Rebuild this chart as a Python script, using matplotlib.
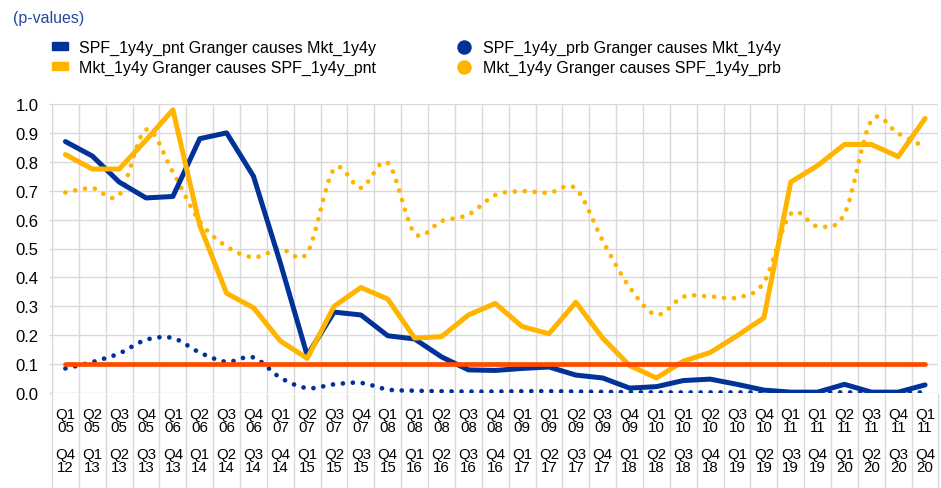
import numpy as np
import matplotlib
matplotlib.use("Agg")
import matplotlib.pyplot as plt
from matplotlib.path import Path
from matplotlib.patches import PathPatch, Patch
from matplotlib.lines import Line2D

plt.rcParams['font.family'] = ['Liberation Sans', 'DejaVu Sans']

# data (p-values)
win_start = ["Q1 05", "Q2 05", "Q3 05", "Q4 05", "Q1 06", "Q2 06", "Q3 06", "Q4 06",
             "Q1 07", "Q2 07", "Q3 07", "Q4 07", "Q1 08", "Q1 08", "Q2 08", "Q3 08",
             "Q4 08", "Q1 09", "Q1 09", "Q2 09", "Q3 09", "Q4 09", "Q1 10", "Q1 10",
             "Q2 10", "Q3 10", "Q4 10", "Q1 11", "Q1 11", "Q2 11", "Q3 11", "Q4 11", "Q1 11"]
win_end = ["Q4 12", "Q1 13", "Q2 13", "Q3 13", "Q4 13", "Q1 14", "Q2 14", "Q3 14",
           "Q4 14", "Q1 15", "Q2 15", "Q3 15", "Q4 15", "Q1 16", "Q2 16", "Q3 16",
           "Q4 16", "Q1 17", "Q2 17", "Q3 17", "Q4 17", "Q1 18", "Q2 18", "Q3 18",
           "Q4 18", "Q1 19", "Q2 19", "Q3 19", "Q4 19", "Q1 20", "Q2 20", "Q3 20", "Q4 20"]

spf_pnt_to_mkt = [0.87, 0.82, 0.73, 0.675, 0.68, 0.88, 0.90, 0.75, 0.45, 0.13, 0.28,
                  0.27, 0.198, 0.187, 0.125, 0.08, 0.078, 0.085, 0.09, 0.062, 0.052,
                  0.017, 0.022, 0.043, 0.048, 0.03, 0.01, 0.003, 0.003, 0.03, 0.003,
                  0.003, 0.028]
mkt_to_spf_pnt = [0.825, 0.775, 0.775, 0.875, 0.98, 0.58, 0.345, 0.295, 0.18, 0.12,
                  0.30, 0.365, 0.325, 0.19, 0.195, 0.27, 0.31, 0.23, 0.205, 0.314,
                  0.19, 0.095, 0.052, 0.11, 0.14, 0.198, 0.26, 0.73, 0.787, 0.86,
                  0.86, 0.818, 0.95]
spf_prb_to_mkt = [0.085, 0.107, 0.137, 0.184, 0.19, 0.14, 0.108, 0.123, 0.053, 0.017,
                  0.03, 0.035, 0.012, 0.008, 0.006, 0.005, 0.005, 0.006, 0.006, 0.005,
                  0.004, 0.003, 0.002, 0.002, 0.002, 0.002, 0.002, 0.002, 0.002, 0.002,
                  0.002, 0.002, 0.002]
mkt_to_spf_prb = [0.694, 0.709, 0.685, 0.911, 0.764, 0.593, 0.507, 0.47, 0.498, 0.485,
                  0.775, 0.71, 0.796, 0.553, 0.595, 0.617, 0.685, 0.698, 0.693, 0.707,
                  0.527, 0.366, 0.271, 0.333, 0.334, 0.33, 0.383, 0.62, 0.577, 0.62,
                  0.942, 0.898, 0.85]
threshold = 0.1

blue = "#003299"
yellow = "#FFB400"
red = "#FF4B00"
grid_c = "#D9D9D9"


def smooth_path(xs, ys):
    # excel-like smoothed line: catmull-rom segments as cubic beziers
    pts = np.column_stack([xs, ys]).astype(float)
    n = len(pts)
    verts = [pts[0]]
    codes = [Path.MOVETO]
    for i in range(n - 1):
        p0 = pts[i - 1] if i > 0 else pts[i]
        p1 = pts[i]
        p2 = pts[i + 1]
        p3 = pts[i + 2] if i + 2 < n else pts[i + 1]
        verts += [p1 + (p2 - p0) / 6, p2 - (p3 - p1) / 6, p2]
        codes += [Path.CURVE4] * 3
    return Path(verts, codes)


x = np.arange(len(win_start))

fig = plt.figure(figsize=(9.41, 4.89), dpi=100)
ax = fig.add_axes([52 / 941, 1 - 394 / 489, (938.5 - 52) / 941, (394 - 105) / 489])

# dotted (smoothed) series
for vals, col in [(mkt_to_spf_prb, yellow), (spf_prb_to_mkt, blue)]:
    pp = PathPatch(smooth_path(x, vals), fill=False, edgecolor=col, lw=3.4,
                   linestyle=(0, (0.01, 2.1)), capstyle='round', zorder=3)
    ax.add_patch(pp)

ax.plot(x, spf_pnt_to_mkt, color=blue, lw=3.6, solid_capstyle='round',
        solid_joinstyle='round', zorder=4)
ax.plot(x, mkt_to_spf_pnt, color=yellow, lw=3.6, solid_capstyle='round',
        solid_joinstyle='round', zorder=4)
ax.plot(x, [threshold] * len(x), color=red, lw=3.4, solid_capstyle='round', zorder=5)

ax.set_xlim(-0.5, len(x) - 0.5)
ax.set_ylim(0, 1.0)
ax.set_yticks(np.arange(0, 1.01, 0.1))
ax.set_yticklabels([f"{v:.1f}" for v in np.arange(0, 1.01, 0.1)], fontsize=12)

labels = [f"{a.replace(' ', chr(10))}\n\n{b.replace(' ', chr(10))}"
          for a, b in zip(win_start, win_end)]
ax.set_xticks(x)
ax.set_xticklabels(labels, fontsize=10.8, linespacing=0.93)
ax.set_xticks(np.arange(-0.5, len(x), 1), minor=True)
ax.tick_params(axis='x', which='major', length=0, pad=10)
ax.tick_params(axis='x', which='minor', length=70, width=1, color=grid_c)
ax.tick_params(axis='y', length=2, width=1, color=grid_c, pad=7.5)

ax.grid(True, which='minor', axis='x', color=grid_c, lw=1)
ax.grid(True, which='major', axis='y', color=grid_c, lw=1)
ax.set_axisbelow(True)
for s in ax.spines.values():
    s.set_visible(False)
ax.spines['left'].set_visible(True)
ax.spines['left'].set_color(grid_c)

fig.text(13 / 941, 1 - 19 / 489, "(p-values)", color="#24479F", fontsize=11.5,
         va='center', ha='left')

h1 = [Patch(color=blue), Patch(color=yellow)]
l1 = ["SPF_1y4y_pnt Granger causes Mkt_1y4y", "Mkt_1y4y Granger causes SPF_1y4y_pnt"]
h2 = [Line2D([], [], ls='none', marker='o', ms=9.4, color=blue),
      Line2D([], [], ls='none', marker='o', ms=9.4, color=yellow)]
l2 = ["SPF_1y4y_prb Granger causes Mkt_1y4y", "Mkt_1y4y Granger causes SPF_1y4y_prb"]

leg_kw = dict(frameon=False, fontsize=11.5, borderpad=0, borderaxespad=0,
              handlelength=1.0, handleheight=0.375, handletextpad=0.69,
              labelspacing=0.31, loc='upper left')
leg1 = fig.legend(h1, l1, bbox_to_anchor=(52 / 941, 1 - 41 / 489), **leg_kw)
leg2 = fig.legend(h2, l2, bbox_to_anchor=(456 / 941, 1 - 41 / 489), **leg_kw)

fig.savefig("out.png", dpi=100)
